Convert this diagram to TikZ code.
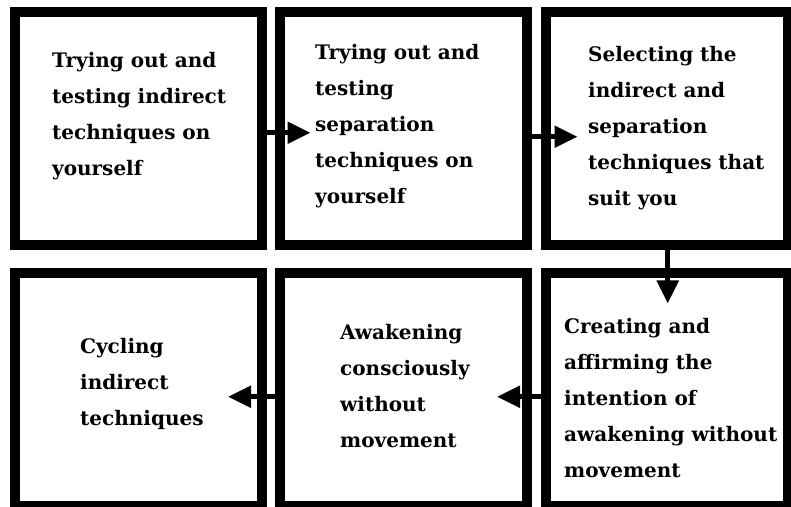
\documentclass[tikz,border=0pt]{standalone}
\usepackage{fontspec}
\setmainfont{DejaVu Serif}
\usetikzlibrary{arrows.meta}

\tikzset{
  stage/.style={draw, line width=10pt, outer sep=0pt, inner sep=0pt, minimum height=232.5pt},
  steptext/.style={anchor=north west, inner sep=0pt, align=left, font=\bfseries\fontsize{20pt}{36pt}\selectfont},
  flow/.style={line width=5pt, -{Triangle[length=23pt,width=21pt]}}
}

\begin{document}
\begin{tikzpicture}[x=1pt,y=1pt]
\useasboundingbox (0,0) rectangle (791,506);

% 六个方框
\node[stage, minimum width=247.5pt] (b1) at (138.25,377.25) {};
\node[stage, minimum width=247.5pt] (b2) at (403.25,377.25) {};
\node[stage, minimum width=242.5pt] (b3) at (666.75,377.25) {};
\node[stage, minimum width=247.5pt] (b4) at (138.25,116.25) {};
\node[stage, minimum width=247.5pt] (b5) at (403.25,116.25) {};
\node[stage, minimum width=242.5pt] (b6) at (666.75,116.25) {};

% 文字
\node[steptext] (t1) at (52,454) {Trying out and\\testing indirect\\techniques on\\yourself};
\node[steptext] (t2) at (315,462) {Trying out and\\testing\\separation\\techniques on\\yourself};
\node[steptext] (t3) at (588,460) {Selecting the\\indirect and\\separation\\techniques that\\suit you};
\node[steptext] (t4) at (80,168) {Cycling\\indirect\\techniques};
\node[steptext] (t5) at (340,182) {Awakening\\consciously\\without\\movement};
\node[steptext] (t6) at (564,188) {Creating and\\affirming the\\intention of\\awakening without\\movement};

% 箭头
\draw[flow] ([xshift=-4pt,yshift=-4pt]b1.east) -- ([xshift=31pt,yshift=-4pt]b2.west);
\draw[flow] ([xshift=-2pt,yshift=-8pt]b2.east) -- ([xshift=32pt,yshift=-8pt]b3.west);
\draw[flow] ([xshift=1pt,yshift=-2pt]b3.south) -- ([xshift=1pt,yshift=-30pt]b6.north);
\draw[flow] ([xshift=3pt,yshift=-7pt]b6.west) -- ([xshift=-30pt,yshift=-7pt]b5.east);
\draw[flow] ([xshift=4pt,yshift=-7pt]b5.west) -- ([xshift=-34pt,yshift=-7pt]b4.east);

\end{tikzpicture}
\end{document}
